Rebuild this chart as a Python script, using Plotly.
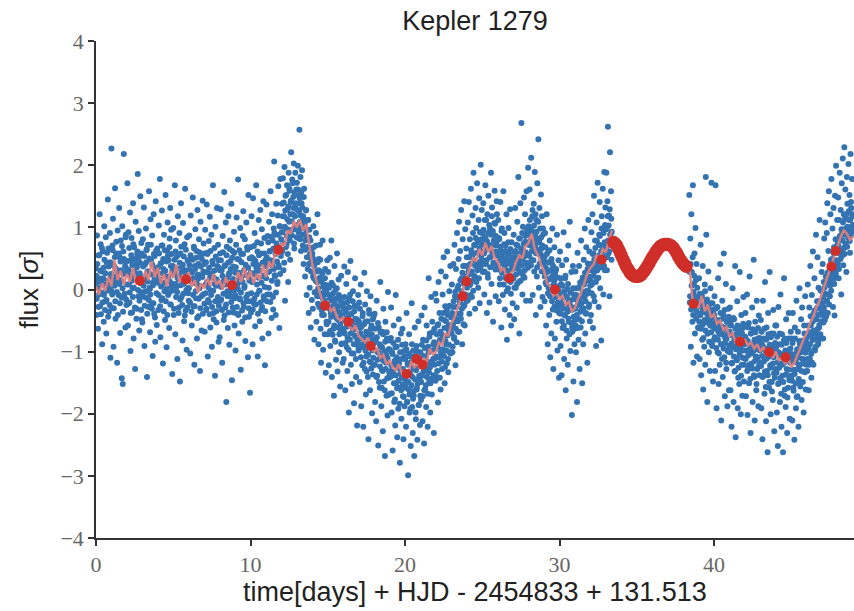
import numpy as np
import plotly.graph_objects as go

# ---------------- data (flux in hundredths of sigma, 30 samples per day) ----------------
seg1_start = 0.0
seg2_start = 38.4
cadence = 1.0 / 30.0

flux_seg1_hundredths = [
    34,-41,87,12,-63,55,-8,121,-27,73,-5,29,-88,61,18,-52,102,7,-19,84,-71,43,-2,145,66,-36,3,91,-110,25,
    227,-30,71,114,-92,38,6,163,-47,58,21,-118,95,30,-9,131,52,-70,79,14,-143,102,-152,61,218,-12,46,-61,88,-25,
    33,171,-58,92,8,-21,124,-99,47,83,-37,2,139,-79,68,19,-128,109,41,-31,57,186,-11,94,-66,26,150,-4,75,-48,
    -53,81,17,132,-91,40,-13,98,63,-141,29,72,-28,158,3,-69,113,48,-22,87,-107,11,121,-39,54,-84,142,24,-57,66,
    59,-33,103,14,178,-77,42,-17,127,71,-119,33,88,-3,-49,152,21,-93,62,108,-9,47,-62,82,131,-24,96,6,-136,38,
    99,-41,27,168,-72,79,4,53,-112,118,16,-29,91,-148,58,139,-12,36,-82,107,9,-51,73,162,-34,22,-97,84,47,-6,
    -18,87,31,-103,119,49,-58,11,148,-27,69,-121,38,97,-14,62,-79,128,17,-43,81,2,-131,109,56,-66,23,143,-8,74,
    41,-68,96,8,-33,137,59,-108,27,78,-21,117,-61,-2,88,-92,46,168,-38,19,67,-139,101,6,-53,131,-17,72,-84,35,
    -77,58,129,-16,31,-118,86,12,-49,157,38,-29,108,-181,69,-3,-62,118,24,-89,79,46,-11,138,-146,62,17,-37,93,-58,
    27,-98,72,116,-39,9,177,-71,48,-14,99,-129,57,21,-52,86,126,-28,3,81,-83,37,108,-19,64,-109,152,-44,14,-166,
    68,-37,118,12,-88,147,49,-23,91,-59,27,168,-8,76,-108,39,112,-2,-51,128,58,-33,97,-79,21,142,-16,83,-122,47,
    48,137,-19,86,28,-71,109,61,-8,158,42,-46,121,79,-32,98,206,23,88,-41,138,68,9,119,166,36,-62,102,178,54,
    61,138,92,179,31,118,197,-18,151,98,72,168,129,12,188,109,159,48,141,221,87,177,121,149,203,66,134,188,97,161,
    172,128,199,83,151,257,109,181,62,139,192,88,118,41,162,101,21,79,128,-9,68,33,112,-38,84,3,57,-61,46,-17,
    58,-31,102,18,-81,42,-4,91,-52,12,121,-23,-88,49,-11,72,-63,-118,28,-41,79,-97,-19,8,-72,33,-134,-2,-56,47,
    -72,28,-122,-9,51,-91,-38,79,-141,-18,7,-63,-171,38,-82,-1,-113,-29,58,-132,-49,16,-101,-12,-156,-68,22,-87,-43,-118,
    -22,-112,37,-71,-162,-31,9,-93,-131,28,-58,-198,-14,-81,46,-121,-39,-152,-62,-3,-103,-183,-27,18,-76,-141,-48,-219,-88,-9,
    -98,-21,-149,-62,8,-188,-79,-122,-38,-221,-91,27,-128,-52,-169,-108,-3,-71,-141,-241,-33,-92,-162,-11,-118,-58,-199,-81,-137,-44,
    -121,-39,-181,-82,-212,-18,-139,-101,-251,-61,-112,-158,12,-92,-188,-129,-68,-228,-31,-148,-109,-268,-52,-118,-171,-79,-203,-4,-142,-96,
    -82,-168,-131,-29,-198,-101,-259,-138,-58,-181,-121,-219,-9,-151,-92,-238,-112,-192,-48,-158,-279,-128,-71,-208,-142,-63,-172,-241,-99,-188,
    -152,-88,-221,-38,-181,-119,-299,-161,-72,-198,-108,-252,-139,-22,-189,-231,-98,-171,-268,-61,-128,-209,-91,-159,-242,-117,-51,-186,-143,-218,
    -101,-178,-42,-139,-212,-81,-122,-248,-29,-161,-108,-189,-58,-131,-221,-92,18,-148,-71,-198,-119,-12,-169,-52,-142,-88,-231,-63,-111,-7,
    -92,-18,-141,-58,-182,12,-109,-38,-81,-161,29,-72,-128,-8,-98,52,-49,-151,-27,21,-88,-119,61,-41,-133,-66,-3,-101,38,-57,
    -62,8,-101,-28,41,-79,72,-11,-122,33,-48,91,2,-68,49,109,-19,62,-39,128,18,-88,81,38,-27,142,-58,97,11,66,
    52,-18,108,29,141,-39,81,9,162,58,-12,119,91,188,22,72,-31,131,99,41,171,79,3,112,147,-22,92,201,58,128,
    91,28,139,61,-8,112,168,41,79,-38,121,19,151,72,-21,98,52,188,9,132,61,-52,88,41,159,106,-11,71,142,33,
    38,112,-19,81,8,141,61,-61,98,29,-9,158,49,91,-32,71,18,121,-81,42,2,99,58,-41,129,12,-58,76,33,-22,
    21,88,-48,59,131,3,72,-29,109,41,181,12,-71,82,139,28,268,51,-8,101,62,148,19,121,77,-18,158,43,92,196,
    102,38,161,-18,79,212,48,118,-9,91,138,29,189,72,-41,112,21,171,58,242,3,131,82,-28,153,66,118,-12,98,41,
    52,-19,91,11,-58,121,28,-88,61,2,-41,79,-109,18,-71,42,98,-32,-128,9,68,-79,-12,31,-52,88,-98,-21,47,-142,
    -28,61,-91,9,-138,39,-62,-11,92,-112,-41,18,-162,48,-79,1,-121,71,-52,-18,109,-99,-31,28,-202,-68,38,-148,-8,-88,
    -49,29,-101,2,-181,59,-22,-81,38,-128,11,-61,79,-32,-151,19,-88,48,-9,98,-71,-39,68,-2,-118,42,112,-28,61,-51,
    31,-41,92,8,121,-62,58,151,-19,79,39,-91,108,18,172,49,-28,88,141,2,71,-82,118,41,162,-8,98,189,31,132,
    98,188,31,142,262,58,119,-11,221,88,158,48,
]

# second, interleaved set of observations (offset by half a cadence)
flux_seg1b_hundredths = [
    22,-15,41,3,-28,18,55,-6,30,-40,12,67,-21,8,35,-9,48,-33,26,1,-17,59,14,-44,37,6,-25,44,19,-2,
    40,-8,63,21,-30,12,52,-19,34,77,-4,28,-41,16,58,9,-22,45,31,-13,70,2,-36,25,49,-7,38,84,-16,27,
    8,46,-23,31,67,-5,22,-38,55,14,39,-12,73,3,28,-29,49,17,-47,36,61,-1,24,52,-18,43,10,-33,58,19,
    -11,37,6,54,-26,21,-3,44,65,-39,13,29,-17,50,1,-8,72,24,-31,40,7,-22,57,16,-45,33,62,-6,27,11,
    36,-9,58,17,-27,42,5,71,-14,26,49,-35,11,63,30,-19,45,2,-41,54,21,-6,68,13,-24,38,57,-2,31,8,
    25,-31,48,9,61,-12,34,-4,19,56,-38,22,43,-16,7,69,28,-25,40,-7,53,15,-42,31,64,-1,18,-29,46,3,
    2,39,-21,55,14,-36,27,48,-9,18,66,-27,33,-3,51,9,-46,24,41,-15,60,6,-30,37,-11,49,20,-39,29,58,
    -23,28,-6,44,-31,12,57,-17,3,35,-40,19,62,-9,25,-28,41,-2,-48,30,9,-19,53,-35,16,38,-12,47,-26,6,
    31,-18,47,4,-33,22,60,-7,14,-42,39,8,-24,55,18,-11,43,-37,26,65,-3,33,-20,10,51,-29,37,-1,59,-14,
    -9,36,15,-28,49,1,-41,27,63,-16,20,-5,44,-34,12,57,-22,31,6,-45,40,-13,23,68,-8,35,-30,17,50,-19,
    27,-6,52,13,-32,41,70,-15,24,46,-24,35,8,61,-39,19,55,-2,30,-21,74,11,-28,43,22,-11,58,4,-35,38,
    18,52,-8,41,76,3,29,62,-20,47,85,14,38,-12,66,33,91,21,57,-5,74,45,12,88,39,68,102,25,59,81,
    92,61,118,75,140,43,101,127,68,152,86,113,57,134,96,162,79,121,143,88,110,171,97,131,74,156,118,139,101,84,
    138,104,161,92,125,147,81,119,156,98,132,71,113,149,88,106,64,127,95,52,83,112,68,41,96,57,79,29,65,48,
    52,21,68,38,-5,47,14,71,29,-11,44,2,31,-28,19,48,-7,12,-34,26,-15,5,-41,-3,18,-29,-8,-52,7,-24,
    -18,-52,3,-31,-67,-12,-44,11,-28,-73,-6,-39,-58,-21,-84,-15,-46,2,-33,-61,-27,-9,-72,-38,-55,-19,-88,-42,-25,-63,
    -31,-68,-12,-49,-86,-37,-60,-21,-78,-44,-97,-29,-56,-8,-71,-40,-103,-52,-19,-65,-88,-35,-74,-47,-112,-58,-26,-81,-50,-94,
    -52,-88,-31,-71,-109,-60,-93,-43,-77,-118,-56,-84,-24,-99,-68,-132,-74,-51,-105,-81,-39,-116,-90,-63,-127,-72,-98,-48,-110,-86,
    -82,-121,-63,-98,-141,-77,-113,-54,-102,-149,-88,-124,-69,-107,-158,-93,-131,-72,-115,-99,-162,-84,-128,-105,-69,-143,-111,-170,-96,-134,
    -97,-141,-78,-122,-167,-104,-133,-86,-151,-115,-177,-93,-138,-109,-159,-126,-81,-147,-119,-184,-101,-135,-162,-112,-89,-153,-128,-173,-108,-144,
    -112,-158,-96,-137,-181,-121,-149,-103,-169,-132,-192,-117,-154,-88,-141,-176,-126,-163,-107,-145,-198,-130,-161,-99,-152,-121,-186,-139,-114,-171,
    -118,-149,-89,-136,-172,-107,-131,-162,-94,-127,-154,-82,-141,-116,-168,-101,-133,-76,-125,-151,-98,-117,-144,-69,-112,-138,-85,-121,-96,-147,
    -108,-72,-131,-93,-56,-119,-84,-142,-68,-101,-47,-116,-79,-96,-38,-107,-62,-125,-83,-51,-98,-33,-74,-112,-58,-89,-26,-70,-103,-45,
    -71,-38,-92,-55,-19,-77,-46,-4,-63,-28,-85,-12,-51,6,-39,-68,-21,15,-47,-3,-31,27,-14,-56,9,-25,38,-8,21,-18,
    3,38,-16,24,52,7,41,-9,63,29,14,56,-2,47,71,21,38,83,12,59,31,76,44,18,67,92,36,54,81,48,
    72,41,96,58,29,84,63,112,47,77,25,91,68,104,52,36,88,71,118,59,94,43,79,107,61,32,86,74,121,55,
    61,32,83,47,18,69,55,94,27,58,41,8,73,36,62,21,49,-3,57,30,76,14,44,22,65,-7,39,51,17,33,
    18,47,3,36,62,24,51,9,71,33,45,82,27,58,14,66,39,91,48,22,74,53,31,86,60,41,97,57,35,72,
    88,54,112,71,39,96,62,128,79,47,103,68,87,121,58,93,36,81,109,64,76,42,98,57,84,29,71,52,89,46,
    52,21,68,35,8,57,29,-6,44,16,63,-11,31,4,49,-19,22,38,-3,14,-27,26,-9,33,-34,5,19,-21,-2,-38,
    -8,-39,18,-22,-51,6,-31,-14,-58,-3,-42,22,-27,-66,-11,-36,9,-47,-19,-72,-25,-5,-54,-33,-61,-16,2,-44,-29,-63,
    -31,-58,-9,-41,-17,-62,-25,3,-48,-14,-36,12,-22,-51,-4,19,-30,8,-12,27,-19,-38,14,-7,33,-2,21,-24,41,6,
    14,41,-6,33,57,22,-11,48,29,67,12,43,78,31,54,19,72,47,86,36,61,98,44,69,53,91,38,76,104,62,
    68,97,52,118,79,103,61,129,88,72,114,93,
]

flux_seg2_hundredths = [
    152,-21,82,-92,121,28,-52,168,-118,9,58,-71,99,-32,41,-108,-12,-61,
    -62,18,-112,-41,72,-138,-9,-81,38,-161,-28,-92,8,-121,181,88,-19,-181,-71,29,-101,-49,-131,2,-58,172,-88,-22,-148,-39,
    -81,-11,-131,168,-49,-191,-29,-101,18,-152,-68,-121,41,-59,-211,-88,-18,-141,-41,58,-109,-172,-79,9,-128,-52,-188,-98,-31,-162,
    -101,-29,-162,-58,-221,-118,2,-91,-181,-48,-132,38,-238,-79,-111,-19,-191,-142,-68,-152,28,-98,-201,-41,-121,-171,-62,-12,-148,-88,
    -111,-38,-172,-81,-8,-202,-128,-61,-151,21,-99,-231,-71,-119,-29,-181,-92,48,-141,-211,-52,-108,-162,-18,-128,-79,-188,-42,-138,-98,
    -121,-49,-191,-88,-241,-18,-139,-79,-168,12,-112,-212,-61,-131,-262,-38,-98,-158,28,-122,-201,-71,-149,-91,-178,-33,-109,-228,-142,-58,
    -131,-58,-198,-101,-252,-28,-151,-88,-181,-8,-119,-221,-72,-139,-262,-108,18,-171,-79,-189,-48,-128,-231,-98,-158,-38,-142,-208,-118,-68,
    -141,-79,-211,-38,-158,-109,-242,-61,-129,-191,-18,-101,-172,-68,-221,-121,2,-88,-151,-48,-178,-29,-112,-82,-198,-58,-132,-11,-161,-92,
    -72,-131,8,-91,-162,-29,-112,38,-58,-142,-9,-81,61,-121,-38,18,-98,-48,88,-71,-19,52,-88,3,-61,112,-31,-2,-79,28,
    -28,41,-79,12,82,-49,108,21,-18,91,139,-38,62,158,9,-11,121,48,178,29,98,-28,131,68,-42,151,81,199,19,112,
    78,148,18,112,188,58,128,-8,171,92,211,39,121,229,68,161,98,28,181,138,88,202,112,152,59,218,141,92,178,121,
    118,
]

flux_seg2b_hundredths = [
    28,-11,41,-32,6,-18,52,-41,-4,22,-29,-12,15,-47,-21,3,-38,-26,
    -19,-52,-7,-41,-63,-28,-12,-57,-35,-78,-24,-49,-3,-66,-38,-53,-16,-71,-44,-29,-84,-37,-58,-22,-69,-46,-91,-33,-55,-61,
    -42,-77,-31,-63,-94,-55,-28,-81,-68,-103,-49,-72,-38,-88,-59,-112,-66,-47,-95,-74,-33,-86,-61,-118,-79,-52,-99,-70,-44,-91,
    -68,-101,-52,-87,-119,-74,-93,-46,-108,-81,-131,-63,-96,-72,-114,-58,-89,-126,-77,-104,-61,-92,-139,-83,-71,-110,-55,-98,-121,-84,
    -76,-112,-59,-98,-131,-83,-106,-54,-121,-91,-144,-71,-103,-88,-127,-64,-99,-138,-81,-115,-69,-96,-152,-87,-109,-62,-124,-93,-78,-117,
    -84,-123,-68,-107,-141,-92,-116,-63,-132,-98,-157,-81,-111,-95,-138,-72,-108,-149,-89,-126,-77,-103,-164,-94,-119,-71,-135,-101,-86,-128,
    -93,-134,-76,-117,-152,-101,-126,-71,-143,-108,-168,-89,-121,-104,-149,-82,-118,-161,-98,-137,-86,-113,-174,-105,-129,-79,-146,-111,-95,-139,
    -104,-147,-86,-129,-163,-112,-136,-79,-151,-117,-173,-96,-128,-109,-144,-83,-122,-156,-101,-131,-88,-112,-149,-95,-119,-71,-133,-102,-84,-121,
    -77,-112,-58,-96,-121,-69,-88,-43,-104,-73,-118,-52,-81,-66,-97,-34,-71,-92,-48,-79,-29,-63,-86,-41,-57,-18,-72,-39,-51,-22,
    -41,-12,-53,-28,3,-36,-7,-44,12,-19,27,-8,16,-24,33,6,41,-2,22,49,14,31,58,9,38,63,26,47,71,35,
    42,71,33,58,86,49,63,97,54,79,108,66,88,57,114,74,92,121,69,101,83,126,94,78,112,87,131,99,118,104,
    96,
]

# GP mean (hundredths of sigma), every 0.2 days
mean_step = 0.2
mean_seg1_hundredths = [
    5,-8,10,-2,20,5,48,15,30,8,
    25,12,35,8,20,10,30,15,45,20,
    35,10,25,5,30,18,40,12,22,15,
    28,5,15,-5,10,2,18,6,25,8,
    15,0,20,5,12,10,28,12,35,15,
    30,10,25,15,40,20,45,35,60,55,
    75,70,95,90,110,100,112,95,105,70,
    40,20,0,-15,-25,-20,-35,-30,-45,-50,
    -45,-55,-60,-65,-58,-75,-80,-85,-78,-95,
    -100,-95,-110,-105,-120,-115,-125,-130,-120,-135,
    -130,-138,-115,-125,-120,-128,-110,-118,-95,-105,
    -100,-85,-90,-70,-75,-55,-45,-30,-15,5,
    20,35,50,45,65,55,75,60,70,50,
    45,30,35,15,25,30,45,55,50,70,
    75,90,65,55,40,30,10,5,-10,-5,
    -15,-10,-25,-20,-35,-30,-15,-5,10,25,
    35,40,55,50,65,60,80,95,
]
mean_seg2_hundredths = [
    40,-15,-20,-30,-10,-35,-25,-45,-40,-55,
    -50,-65,-60,-75,-70,-85,-78,-88,-80,-90,
    -85,-95,-88,-100,-92,-105,-98,-110,-100,-115,
    -108,-120,-110,-125,-118,-105,-95,-80,-70,-55,
    -45,-30,-20,-5,10,25,40,55,70,85,
    95,90,80,85,
]

# sampled prediction points
sample_t = [2.85, 5.83, 8.8, 11.8, 14.82, 16.33, 17.78, 20.11, 20.75, 21.14,
            23.73, 23.99, 26.75, 29.71, 32.73, 38.66, 41.68, 43.56, 44.63, 47.6, 47.88]
sample_f = [0.14, 0.16, 0.07, 0.64, -0.26, -0.52, -0.91, -1.36, -1.12, -1.21,
            -0.11, 0.13, 0.18, 0.0, 0.48, -0.23, -0.84, -1.01, -1.09, 0.37, 0.62]

# prediction across the data gap (every 0.1 day from 33.5)
gap_start = 33.5
gap_step = 0.1
gap_f = [0.76,0.74,0.71,0.66,0.61,0.55,0.49,0.44,0.38,0.34,
         0.30,0.26,0.24,0.22,0.21,0.21,0.21,0.22,0.24,0.27,
         0.30,0.34,0.38,0.42,0.47,0.51,0.55,0.59,0.63,0.66,
         0.69,0.71,0.72,0.73,0.73,0.73,0.72,0.71,0.69,0.66,
         0.62,0.58,0.53,0.49,0.45,0.42,0.39,0.37]

x_ticks = [0, 10, 20, 30, 40]
y_ticks = [-4, -3, -2, -1, 0, 1, 2, 3, 4]

# ---------------- build ----------------
def times(start, n, offset=0.0):
    return start + offset + cadence * np.arange(n)

t_obs = np.concatenate([
    times(seg1_start, len(flux_seg1_hundredths)),
    times(seg1_start, len(flux_seg1b_hundredths), cadence / 2),
    times(seg2_start, len(flux_seg2_hundredths)),
    times(seg2_start, len(flux_seg2b_hundredths), cadence / 2),
])
f_obs = np.concatenate([flux_seg1_hundredths, flux_seg1b_hundredths,
                        flux_seg2_hundredths, flux_seg2b_hundredths]) / 100.0

m1x = seg1_start + mean_step * np.arange(len(mean_seg1_hundredths))
m2x = seg2_start + mean_step * np.arange(len(mean_seg2_hundredths))
mean_x = list(m1x) + [None] + list(m2x)
mean_y = [v / 100.0 for v in mean_seg1_hundredths] + [None] + [v / 100.0 for v in mean_seg2_hundredths]

gap_t = gap_start + gap_step * np.arange(len(gap_f))

BLUE = "#3473b2"
RED = "#cf2e29"
PINK = "rgba(232,128,122,0.9)"

fig = go.Figure()
fig.add_trace(go.Scatter(x=t_obs, y=f_obs, mode="markers",
                         marker=dict(color=BLUE, size=6, line=dict(width=0)),
                         showlegend=False, hoverinfo="skip"))
fig.add_trace(go.Scatter(x=mean_x, y=mean_y, mode="lines",
                         line=dict(color=PINK, width=2.5),
                         showlegend=False, hoverinfo="skip", connectgaps=False))
fig.add_trace(go.Scatter(x=gap_t, y=gap_f, mode="markers",
                         marker=dict(color=RED, size=13, line=dict(width=0)),
                         showlegend=False))
fig.add_trace(go.Scatter(x=sample_t, y=sample_f, mode="markers",
                         marker=dict(color=RED, size=10, line=dict(width=0)),
                         showlegend=False))

AX = "#333333"
TICKFONT = dict(family="Liberation Serif", size=22, color="#666666")

fig.update_layout(
    width=854, height=611,
    margin=dict(l=96, r=0, t=41, b=73),
    paper_bgcolor="white", plot_bgcolor="white",
    title=dict(text="Kepler 1279", x=0.5, xref="paper", xanchor="center",
               y=1 - 21 / 611, yref="container", yanchor="middle",
               font=dict(family="Liberation Sans", size=27, color="#222222")),
    xaxis=dict(range=[0, 49.06], tickvals=x_ticks, showgrid=False, zeroline=False,
               showline=True, linecolor=AX, linewidth=1.6,
               ticks="outside", ticklen=6, tickwidth=1.5, tickcolor=AX,
               tickfont=TICKFONT, automargin=False,
               title=dict(text="time[days] + HJD - 2454833 + 131.513", standoff=6,
                          font=dict(family="Liberation Sans", size=27, color="#222222"))),
    yaxis=dict(range=[-4, 4], tickvals=y_ticks, showgrid=False, zeroline=False,
               showline=True, linecolor=AX, linewidth=1.6,
               ticks="outside", ticklen=6, tickwidth=1.5, tickcolor=AX,
               tickfont=TICKFONT, automargin=False,
               title=dict(text="flux [<i>σ</i>]", standoff=14,
                          font=dict(family="Liberation Sans", size=26, color="#222222"))),
)

fig.write_html("out.html")
